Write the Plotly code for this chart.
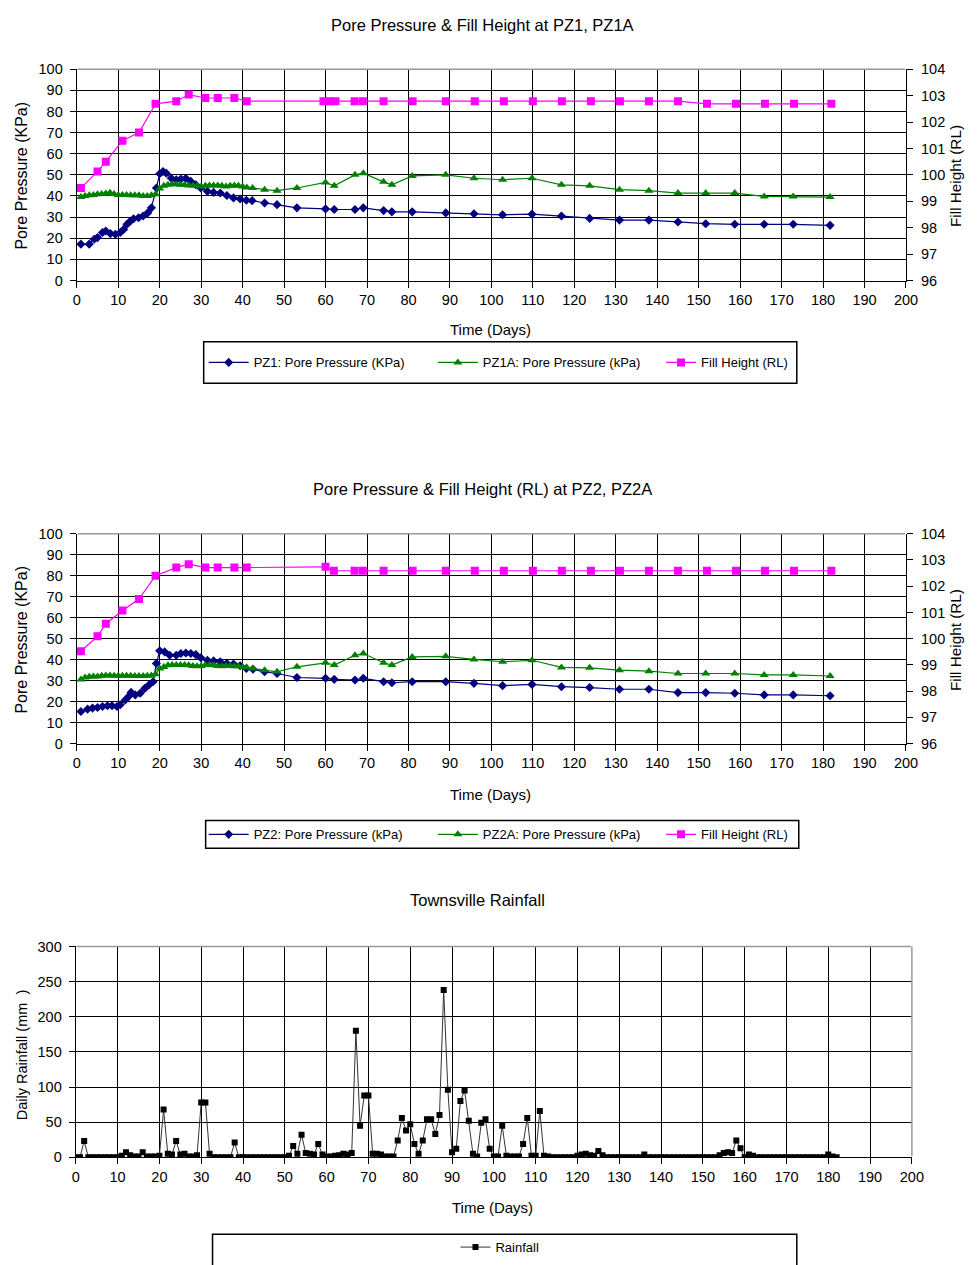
import plotly.graph_objects as go

W, H = 977, 1265

# ---------------- PZ1 / PZ1A / fill (upper chart) ----------------
pz1_days = [1, 3, 4.2, 5, 6.2, 7, 8.1, 9.3, 10.5, 11.3, 12.1, 12.9, 13.7, 14.9, 16, 17.1, 18,
            19.2, 20, 20.8, 21.6, 22.8, 24, 25.1, 26.3, 27.5, 28.7, 29.9, 31.5, 33, 34.6, 36.2,
            37.8, 39.4, 40.9, 42.3, 45.3, 48.3, 53.1, 60, 62.1, 67.1, 69.1, 74, 76, 80.9, 89,
            95.8, 102.7, 109.8, 116.9, 123.7, 130.9, 138, 145, 151.7, 158.7, 165.8, 172.8, 181.7]
pz1_kpa = [17.2, 17.2, 19.5, 20.3, 22.7, 23.4, 22.2, 21.9, 22.7, 24.2, 26.6, 28.1, 29.2, 29.7,
           30.5, 32.0, 34.4, 43.8, 50.5, 51.6, 50.8, 48.4, 47.7, 48.0, 48.4, 46.9, 45.3, 43.8,
           42.2, 41.7, 41.4, 40.2, 39.1, 38.6, 38.0, 37.8, 36.7, 35.9, 34.4, 33.9, 33.6, 33.6,
           34.4, 33.1, 32.5, 32.5, 32.0, 31.6, 31.1, 31.4, 30.5, 29.4, 28.6, 28.6, 27.7, 26.9,
           26.6, 26.6, 26.6, 26.1]

pz1a_days = [1, 2, 3, 4, 5, 6, 7, 8, 9, 10, 11, 12, 13, 14, 15, 16, 17, 18, 19, 20, 21, 22, 23,
             24, 25, 26, 27, 28, 29, 30, 31, 32, 33, 34, 35, 36, 37, 38, 39, 40, 41, 42.4, 45.3,
             48.3, 53.1, 60, 62.1, 67.1, 69.1, 74, 76, 80.9, 89, 95.8, 102.7, 109.8, 116.9,
             123.7, 130.9, 138, 145, 151.7, 158.7, 165.8, 172.8, 181.7]
pz1a_kpa = [39.5, 40.0, 40.3, 40.5, 40.8, 41.0, 41.2, 41.5, 41.0, 40.5, 40.5, 40.5, 40.3, 40.3,
            40.3, 40.0, 40.0, 40.3, 40.8, 43.5, 44.8, 45.3, 45.5, 45.5, 45.3, 45.3, 45.0, 45.0,
            44.8, 44.5, 44.8, 45.0, 45.0, 45.0, 44.8, 44.5, 44.8, 45.0, 44.8, 44.5, 44.0, 43.8,
            43.0, 42.5, 43.8, 46.4, 44.8, 50.0, 50.8, 46.7, 45.3, 49.5, 50.0, 48.4, 47.7, 48.4,
            45.3, 44.8, 43.0, 42.5, 41.4, 41.4, 41.4, 39.8, 39.8, 39.5]

fill1_days = [1, 5, 7, 11, 15, 19, 24, 27, 31, 34, 38, 41, 59.5, 61, 62.4, 67, 69, 74, 81, 89,
              96, 103, 110, 117, 124, 131, 138, 145, 152, 159, 166, 173, 182]
fill1_rl = [99.50, 100.13, 100.50, 101.29, 101.60, 102.69, 102.79, 103.04, 102.91, 102.91,
            102.91, 102.79, 102.79, 102.79, 102.79, 102.79, 102.79, 102.79, 102.79, 102.79,
            102.79, 102.79, 102.79, 102.79, 102.79, 102.79, 102.79, 102.79, 102.69, 102.69,
            102.69, 102.69, 102.69]

# ---------------- PZ2 / PZ2A / fill (middle chart) ----------------
pz2_days = [1, 2.6, 3.8, 5, 6.2, 7.4, 8.5, 9.7, 10.5, 11.7, 12.5, 13.1, 14.1, 15.3, 16.4, 17.4,
            18.4, 19.2, 20, 21.2, 22.4, 24, 25.1, 26.3, 27.5, 28.7, 29.9, 31.5, 33, 34.6, 36.2,
            37.8, 39.4, 40.9, 42.5, 45.3, 48.3, 53.1, 60, 62.1, 67.1, 69.1, 74, 76, 80.9, 89,
            95.8, 102.7, 109.8, 116.9, 123.7, 130.9, 138, 145, 151.7, 158.7, 165.8, 172.8, 181.7]
pz2_kpa = [15.3, 16.4, 16.9, 17.2, 17.7, 18.0, 18.0, 17.7, 18.5, 20.8, 22.4, 24.4, 23.2, 24.0,
           26.3, 27.9, 29.5, 38.2, 44.2, 43.7, 42.1, 42.1, 42.9, 43.2, 42.9, 42.4, 40.9, 39.7,
           39.4, 39.0, 38.2, 37.9, 37.1, 35.8, 35.4, 34.2, 33.4, 31.5, 31.1, 30.6, 30.3, 31.1,
           29.5, 29.0, 29.5, 29.5, 28.7, 27.6, 28.2, 27.1, 26.7, 25.9, 25.9, 24.3, 24.3, 24.0,
           23.2, 23.2, 22.8]

pz2a_days = pz1a_days
pz2a_kpa = [30.5, 31.5, 31.8, 32.0, 32.0, 32.3, 32.5, 32.5, 32.3, 32.3, 32.3, 32.3, 32.3, 32.2,
            32.2, 32.2, 32.3, 32.5, 33.0, 35.8, 36.5, 37.3, 37.5, 37.5, 37.5, 37.5, 37.3, 37.0,
            36.8, 37.0, 37.5, 37.5, 37.3, 37.0, 36.8, 37.0, 37.0, 36.8, 36.8, 36.5, 36.2, 35.8,
            35.0, 34.2, 36.6, 38.5, 37.4, 42.1, 42.9, 38.5, 37.4, 41.3, 41.6, 40.1, 39.0, 39.7,
            36.3, 36.1, 35.0, 34.5, 33.4, 33.4, 33.4, 32.7, 32.7, 32.2]

fill2_days = [1, 5, 7, 11, 15, 19, 24, 27, 31, 34, 38, 41, 60, 62, 67, 69, 74, 81, 89, 96, 103,
              110, 117, 124, 131, 138, 145, 152, 159, 166, 173, 182]
fill2_rl = [99.52, 100.09, 100.57, 101.07, 101.51, 102.40, 102.71, 102.84, 102.71, 102.71,
            102.71, 102.71, 102.74, 102.59, 102.59, 102.59, 102.59, 102.59, 102.59, 102.59,
            102.59, 102.59, 102.59, 102.59, 102.59, 102.59, 102.59, 102.59, 102.59, 102.59,
            102.59, 102.59]

# ---------------- Townsville daily rainfall (days 0..182) ----------------
rain_days = list(range(183))
rain_mm = [0, 0, 23, 0, 0, 0, 0, 0, 0, 0,
           0, 2, 7, 3, 1, 1, 7, 1, 1, 1,
           2, 68, 5, 4, 23, 4, 5, 1, 1, 3,
           78, 78, 5, 0, 0, 0, 0, 0, 21, 0,
           0, 0, 0, 0, 0, 0, 0, 0, 0, 0,
           0, 2, 16, 5, 32, 6, 5, 4, 19, 4,
           1, 1, 2, 3, 5, 4, 6, 180, 45, 88,
           88, 5, 5, 4, 1, 1, 1, 24, 56, 38,
           47, 19, 5, 24, 54, 54, 33, 60, 238, 96,
           7, 12, 80, 95, 52, 5, 1, 49, 54, 12,
           1, 1, 45, 2, 1, 1, 1, 19, 56, 2,
           2, 66, 2, 1, 0, 0, 0, 0, 0, 0,
           2, 4, 5, 3, 2, 9, 3, 0, 0, 0,
           0, 0, 0, 0, 0, 0, 4, 0, 0, 0,
           0, 0, 0, 0, 0, 0, 0, 0, 0, 0,
           0, 0, 0, 0, 3, 6, 7, 6, 24, 13,
           0, 4, 2, 0, 0, 0, 0, 0, 0, 0,
           0, 0, 0, 0, 0, 0, 0, 0, 0, 0,
           4, 1, 0]

x_ticks = list(range(0, 201, 10))

NAVY = "#000080"
GREEN = "#008000"
MAGENTA = "#FF00FF"
FONT = "Liberation Sans, Arial, sans-serif"


def px_x(v):
    return v / W


def px_y(v):
    return 1 - v / H


fig = go.Figure()


def pressure_trace(x, y, name, color, symbol, size, xa, ya, lg):
    return go.Scatter(x=x, y=y, name=name, mode="lines+markers",
                      line=dict(color=color, width=1.2),
                      marker=dict(symbol=symbol, size=size, color=color, line=dict(width=0)),
                      xaxis=xa, yaxis=ya, legend=lg)


fig.add_trace(pressure_trace(pz1_days, pz1_kpa, "PZ1: Pore Pressure (KPa)", NAVY, "diamond", 7, "x", "y", "legend"))
fig.add_trace(pressure_trace(pz1a_days, pz1a_kpa, "PZ1A: Pore Pressure (kPa)", GREEN, "triangle-up", 8, "x", "y", "legend2"))
fig.add_trace(pressure_trace(fill1_days, fill1_rl, "Fill Height (RL)", MAGENTA, "square", 8, "x", "y2", "legend3"))

fig.add_trace(pressure_trace(pz2_days, pz2_kpa, "PZ2: Pore Pressure (kPa)", NAVY, "diamond", 7, "x2", "y3", "legend4"))
fig.add_trace(pressure_trace(pz2a_days, pz2a_kpa, "PZ2A: Pore Pressure (kPa)", GREEN, "triangle-up", 8, "x2", "y3", "legend5"))
fig.add_trace(pressure_trace(fill2_days, fill2_rl, "Fill Height (RL)", MAGENTA, "square", 8, "x2", "y4", "legend6"))

fig.add_trace(go.Scatter(x=rain_days, y=rain_mm, name="Rainfall", mode="lines+markers",
                         line=dict(color="#333333", width=1),
                         marker=dict(symbol="square", size=6, color="black"),
                         xaxis="x3", yaxis="y5", legend="legend7"))

tick_font = dict(family=FONT, size=14.5, color="black")
axis_common = dict(showgrid=True, gridcolor="black", gridwidth=1.3, zeroline=False,
                   showline=True, linecolor="black", linewidth=1.3,
                   ticks="outside", ticklen=6, tickwidth=1.3, tickcolor="black",
                   tickfont=tick_font)
right_axis = dict(side="right", range=[96, 104], dtick=1,
                  showgrid=False, zeroline=False, showline=True, linecolor="black", linewidth=1.3,
                  ticks="outside", ticklen=6, tickwidth=1.3, tickcolor="black",
                  ticklabelstandoff=5, tickfont=tick_font)

dom1 = [px_y(276), px_y(62)]
dom2 = [px_y(745), px_y(532.5)]
dom3 = [px_y(1164), px_y(950.5)]
xdom12 = [px_x(74), px_x(917)]
xdom3 = [px_x(73), px_x(923)]

fig.update_layout(
    width=W, height=H, margin=dict(l=0, r=0, t=0, b=0),
    paper_bgcolor="white", plot_bgcolor="white",
    font=dict(family=FONT, color="black"),
    xaxis=dict(domain=xdom12, anchor="y", range=[0, 200], tickvals=x_ticks, **axis_common),
    yaxis=dict(domain=dom1, anchor="x", range=[0, 100], dtick=10, ticklabelstandoff=4, **axis_common),
    yaxis2=dict(overlaying="y", anchor="x", **right_axis),
    xaxis2=dict(domain=xdom12, anchor="y3", range=[0, 200], tickvals=x_ticks, **axis_common),
    yaxis3=dict(domain=dom2, anchor="x2", range=[0, 100], dtick=10, ticklabelstandoff=4, **axis_common),
    yaxis4=dict(overlaying="y3", anchor="x2", **right_axis),
    xaxis3=dict(domain=xdom3, anchor="y5", range=[0, 200], tickvals=x_ticks, **axis_common),
    yaxis5=dict(domain=dom3, anchor="x3", range=[0, 300], dtick=50, ticklabelstandoff=4, **axis_common),
    showlegend=True,
)

# one legend per entry so each sample sits where it belongs inside its frame
legend_font = dict(family=FONT, size=13, color="black")


def entry(x, y, width):
    return dict(x=px_x(x), y=px_y(y), xanchor="left", yanchor="middle", orientation="h",
                bgcolor="rgba(0,0,0,0)", borderwidth=0, itemwidth=width, font=legend_font)


fig.update_layout(
    legend=entry(203, 359, 40),
    legend2=entry(436, 359, 40),
    legend3=entry(668, 359, 30),
    legend4=entry(203, 837, 40),
    legend5=entry(436, 837, 40),
    legend6=entry(668, 837, 30),
    legend7=entry(459, 1255, 30),
)

shapes = []
# legend frames
for x0, y0, x1, y1 in [(203, 338, 806, 380), (205, 823, 808, 851), (212, 1242, 806, 1275)]:
    shapes.append(dict(type="rect", xref="paper", yref="paper",
                       x0=px_x(x0), x1=px_x(x1), y0=px_y(y1), y1=px_y(y0),
                       line=dict(color="black", width=1.5), fillcolor="rgba(0,0,0,0)"))
# grey plot-area frame edges
for xd, yd in [(xdom12, dom1), (xdom12, dom2), (xdom3, dom3)]:
    shapes.append(dict(type="line", xref="paper", yref="paper", layer="above",
                       x0=xd[0] + 0.001, x1=xd[1] - 0.001, y0=yd[1], y1=yd[1],
                       line=dict(color="#9a9a9a", width=1.5)))
shapes.append(dict(type="line", xref="paper", yref="paper", layer="above",
                   x0=xdom3[1], x1=xdom3[1], y0=dom3[0] + 0.0008, y1=dom3[1],
                   line=dict(color="#9a9a9a", width=1.5)))
fig.update_layout(shapes=shapes)


def label(text, x, y, size=15, angle=0):
    return dict(text=text, xref="paper", yref="paper", x=px_x(x), y=px_y(y),
                xanchor="center", yanchor="middle", showarrow=False, textangle=angle,
                font=dict(family=FONT, size=size, color="black"))


fig.update_layout(annotations=[
    label("Pore Pressure &amp; Fill Height at PZ1, PZ1A", 486, 17, 16.5),
    label("Pore Pressure &amp; Fill Height (RL) at PZ2, PZ2A", 486, 487, 16.5),
    label("Townsville Rainfall", 481, 903, 16.5),
    label("Time (Days)", 495, 326),
    label("Time (Days)", 495, 797),
    label("Time (Days)", 497, 1215),
    label("Pore Pressure (KPa)", 18, 170, 16, -90),
    label("Pore Pressure (KPa)", 18, 640, 16, -90),
    label("Fill Height (RL)", 968, 170, 15.3, -90),
    label("Fill Height (RL)", 968, 640, 15.3, -90),
    label("Daily Rainfall (mm  )", 18, 1060, 14.5, -90),
])

fig.write_html("out.html")
